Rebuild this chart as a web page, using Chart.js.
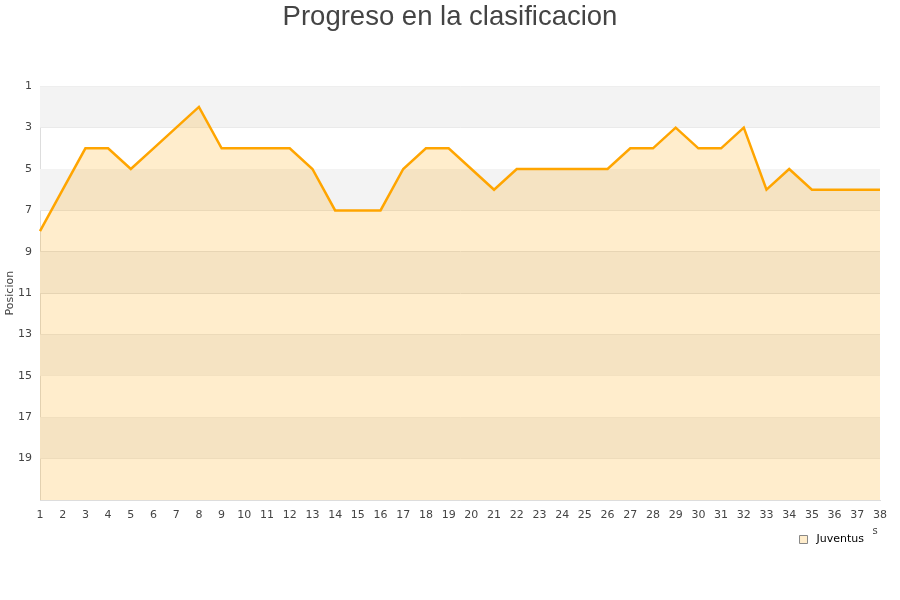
<!DOCTYPE html>
<html>
<head>
<meta charset="utf-8">
<script src="https://cdn.jsdelivr.net/npm/chart.js@4/dist/chart.umd.min.js"></script>
<style>
  html, body { margin: 0; padding: 0; background: #fff; }
  #wrap { width: 900px; height: 600px; }
</style>
</head>
<body>
<div id="wrap"><canvas id="chart" width="900" height="600"></canvas></div>
<script>
'use strict';

const jornadas = Array.from({ length: 38 }, (_, i) => String(i + 1));
const posiciones = [
  8, 6, 4, 4, 5, 4, 3, 2, 4, 4,
  4, 4, 5, 7, 7, 7, 5, 4, 4, 5,
  6, 5, 5, 5, 5, 5, 4, 4, 3, 4,
  4, 3, 6, 5, 6, 6, 6, 6,
];
const yTickValues = [1, 3, 5, 7, 9, 11, 13, 15, 17, 19, 21];

const bandPlugin = {
  id: 'bands',
  afterLayout(chart) {
    // center the title on the whole canvas, not the padded box
    if (chart.titleBlock) chart.titleBlock.right = chart.width;
  },
  beforeDatasetsDraw(chart) {
    const { ctx, chartArea } = chart;
    const y = chart.scales.y;
    ctx.save();
    for (let i = 0; i < yTickValues.length - 1; i += 2) {
      const a = y.getPixelForValue(yTickValues[i]);
      const b = y.getPixelForValue(yTickValues[i + 1]);
      ctx.fillStyle = '#f3f3f3';
      ctx.fillRect(chartArea.left, a, chartArea.right - chartArea.left, b - a);
    }
    ctx.restore();
  },
  afterDraw(chart) {
    // clipped axis title remnant next to the last tick
    const { ctx } = chart;
    ctx.save();
    ctx.fillStyle = '#444';
    ctx.font = '10px "DejaVu Sans", sans-serif';
    ctx.textAlign = 'center';
    ctx.textBaseline = 'middle';
    ctx.fillText('s', 875, 531);
    ctx.restore();
  },
};

new Chart(document.getElementById('chart').getContext('2d'), {
  type: 'line',
  data: {
    labels: jornadas,
    datasets: [{
      label: 'Juventus',
      data: posiciones,
      borderColor: '#ffa500',
      backgroundColor: 'rgba(255,165,0,0.2)',
      borderWidth: 2.5,
      pointRadius: 0,
      pointHoverRadius: 0,
      tension: 0,
      fill: 'start',
    }],
  },
  options: {
    responsive: false,
    animation: false,
    layout: { padding: { left: 0, right: 20, top: 0, bottom: 45 } },
    plugins: {
      title: {
        display: true,
        text: 'Progreso en la clasificacion',
        color: '#444',
        font: { family: '"Liberation Sans", Arial, sans-serif', size: 27.5, weight: 'normal', lineHeight: 1.1 },
        padding: { top: 2, bottom: 54 },
      },
      legend: {
        position: 'bottom',
        align: 'end',
        labels: {
          color: '#111',
          boxWidth: 8,
          boxHeight: 8,
          padding: 16,
          font: { family: '"DejaVu Sans", sans-serif', size: 11 },
          generateLabels: () => [{
            text: ' Juventus',
            fillStyle: '#ffedcc',
            strokeStyle: '#888',
            lineWidth: 1,
            datasetIndex: 0,
          }],
        },
      },
      tooltip: { enabled: false },
    },
    scales: {
      x: {
        offset: false,
        grid: { display: false },
        border: { color: '#ddd' },
        ticks: {
          color: '#444',
          maxRotation: 0,
          autoSkip: false,
          padding: 1,
          font: { family: '"DejaVu Sans", sans-serif', size: 11 },
        },
        afterFit: scale => { scale.height = 18; },
      },
      y: {
        reverse: true,
        min: 1,
        max: 21,
        afterBuildTicks: scale => { scale.ticks = yTickValues.map(v => ({ value: v })); },
        grid: { color: '#ddd', drawTicks: false },
        border: { color: '#ddd' },
        ticks: {
          color: '#444',
          padding: 8,
          font: { family: '"DejaVu Sans", sans-serif', size: 11 },
          callback: v => (v === 21 ? '' : String(v)),
        },
        title: {
          display: true,
          text: 'Posicion',
          color: '#444',
          padding: { top: 4, bottom: 0 },
          font: { family: '"DejaVu Sans", sans-serif', size: 11 },
        },
        afterFit: scale => { scale.width = 40; },
      },
    },
  },
  plugins: [bandPlugin],
});
</script>
</body>
</html>
